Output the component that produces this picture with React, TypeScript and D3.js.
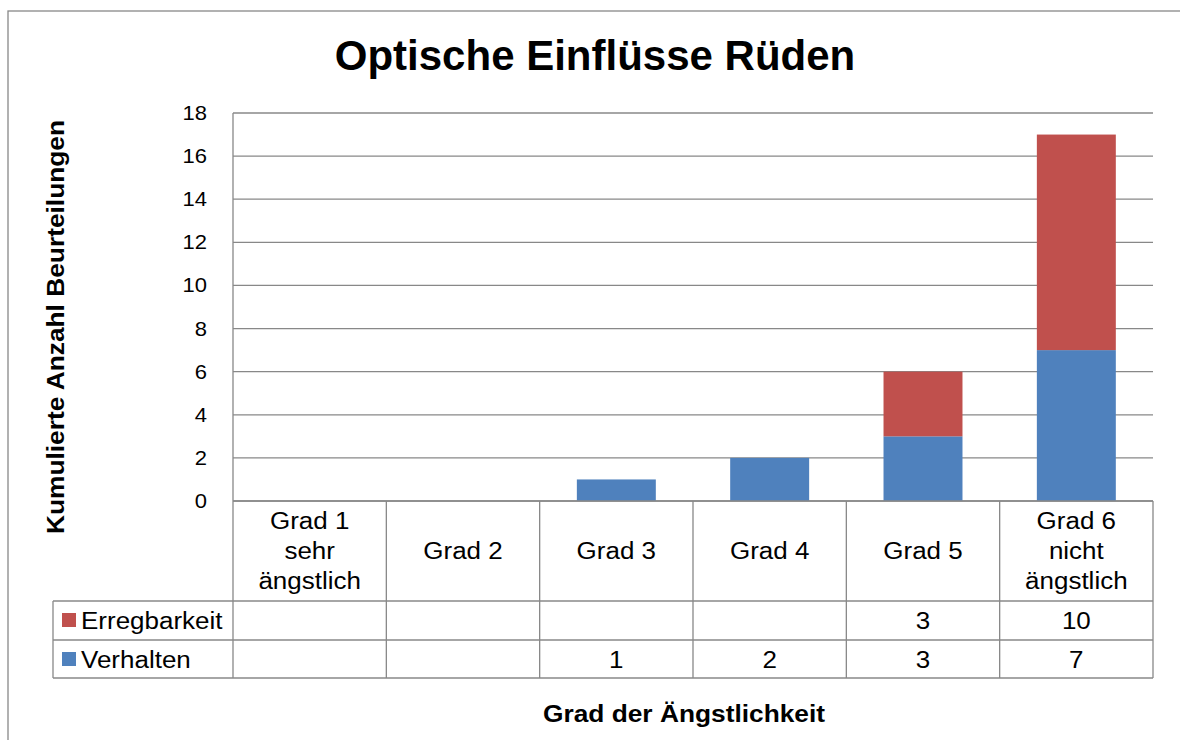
import React from "react";
import * as d3 from "d3";

const categories: string[][] = [
  ["Grad 1", "sehr", "ängstlich"],
  ["Grad 2"],
  ["Grad 3"],
  ["Grad 4"],
  ["Grad 5"],
  ["Grad 6", "nicht", "ängstlich"],
];
const verhalten: (number | null)[] = [null, null, 1, 2, 3, 7];
const erregbarkeit: (number | null)[] = [null, null, null, null, 3, 10];
const yTicks: number[] = [0, 2, 4, 6, 8, 10, 12, 14, 16, 18];
const title = "Optische Einflüsse Rüden";
const yTitle = "Kumulierte Anzahl Beurteilungen";
const xTitle = "Grad der Ängstlichkeit";

const BLUE = "#4F81BD";
const RED = "#C0504D";
const GRID = "#888888";
const FONT = "'Liberation Sans', Arial, sans-serif";

function T(props: { x: number; y: number; sx?: number; rot?: number; size: number; anchor?: string; bold?: boolean; children: any }) {
  const { x, y, sx = 1, rot = 0, size, anchor = "start", bold = false, children } = props;
  return (
    <text
      transform={`translate(${x},${y})${rot ? ` rotate(${rot})` : ""} scale(${sx},1)`}
      textAnchor={anchor}
      fontSize={size}
      fontWeight={bold ? "bold" : "normal"}
      fill="#000"
    >
      {children}
    </text>
  );
}

export default function App() {
  const W = 1180, H = 740;
  const left = 233, right = 1153, top = 113, bottom = 501;
  const tableLeft = 53;
  const row1Bottom = 601, row2Bottom = 640, row3Bottom = 678;
  const TS = 23, TSX = 1.13;

  const idx = categories.map((_, i) => String(i));
  const x = d3.scaleBand<string>().domain(idx).range([left, right]).paddingInner(0.485).paddingOuter(0.2425);
  const xc = d3.scaleBand<string>().domain(idx).range([left, right]).padding(0);
  const y = d3.scaleLinear().domain([0, 18]).range([bottom, top]);

  const rows = categories.map((_, i) => ({ i: String(i), verhalten: verhalten[i] ?? 0, erregbarkeit: erregbarkeit[i] ?? 0 }));
  const stack = d3.stack<any>().keys(["verhalten", "erregbarkeit"]);
  const series = stack(rows);
  const colors: Record<string, string> = { verhalten: BLUE, erregbarkeit: RED };

  const colEdges = [...idx.map((d) => xc(d)!), right];
  const cxOf = (i: number) => xc(String(i))! + xc.bandwidth() / 2;

  return (
    <svg width={W} height={H} style={{ position: "absolute", left: 0, top: 0, fontFamily: FONT }}>
      <rect x={0} y={0} width={W} height={H} fill="#fff" />
      <rect x={8} y={11} width={W + 20} height={H + 20} fill="none" stroke="#888" strokeWidth={1.3} />
      <T x={595} y={70} size={42} bold anchor="middle">{title}</T>

      {/* grid */}
      {yTicks.map((t) => (
        <line key={t} x1={left} x2={right} y1={y(t)} y2={y(t)} stroke={GRID} strokeWidth={1.3} />
      ))}
      <line x1={left} x2={left} y1={top} y2={bottom} stroke={GRID} strokeWidth={1.3} />
      {yTicks.map((t) => (
        <T key={t} x={207} y={y(t) + 7} size={20} sx={1.1} anchor="end">{t}</T>
      ))}

      {/* bars */}
      {series.map((s) => (
        <g key={s.key} fill={colors[s.key]}>
          {s.map((d, j) =>
            d[1] - d[0] > 0 ? (
              <rect key={j} x={x(d.data.i)!} width={x.bandwidth()} y={y(d[1])} height={y(d[0]) - y(d[1])} />
            ) : null
          )}
        </g>
      ))}

      {/* table */}
      <g stroke={GRID} strokeWidth={1.3} fill="none">
        <line x1={left} x2={right} y1={bottom} y2={bottom} />
        <line x1={tableLeft} x2={right} y1={row1Bottom} y2={row1Bottom} />
        <line x1={tableLeft} x2={right} y1={row2Bottom} y2={row2Bottom} />
        <line x1={tableLeft} x2={right} y1={row3Bottom} y2={row3Bottom} />
        <line x1={tableLeft} x2={tableLeft} y1={row1Bottom} y2={row3Bottom} />
        {colEdges.map((e, k) => (
          <line key={k} x1={e} x2={e} y1={bottom} y2={row3Bottom} />
        ))}
      </g>
      {categories.map((lines, i) => {
        const lh = 30;
        const mid = (bottom + row1Bottom) / 2;
        const y0 = mid - ((lines.length - 1) * lh) / 2 + 8;
        return (
          <g key={i}>
            {lines.map((l, k) => (
              <T key={k} x={cxOf(i)} y={y0 + k * lh} size={TS} sx={TSX} anchor="middle">{l}</T>
            ))}
          </g>
        );
      })}
      {erregbarkeit.map((v, i) =>
        v != null ? (
          <T key={"e" + i} x={cxOf(i)} y={629} size={TS} sx={TSX} anchor="middle">{v}</T>
        ) : null
      )}
      {verhalten.map((v, i) =>
        v != null ? (
          <T key={"v" + i} x={cxOf(i)} y={668} size={TS} sx={TSX} anchor="middle">{v}</T>
        ) : null
      )}
      <rect x={62} y={613} width={14} height={14} fill={RED} />
      <T x={81} y={629} size={TS} sx={TSX}>Erregbarkeit</T>
      <rect x={62} y={652} width={14} height={14} fill={BLUE} />
      <T x={81} y={668} size={TS} sx={TSX}>Verhalten</T>

      <T x={684} y={722} size={23.5} sx={1.12} bold anchor="middle">{xTitle}</T>
      <T x={64} y={327} rot={-90} size={23.5} sx={1.12} bold anchor="middle">{yTitle}</T>
    </svg>
  );
}
